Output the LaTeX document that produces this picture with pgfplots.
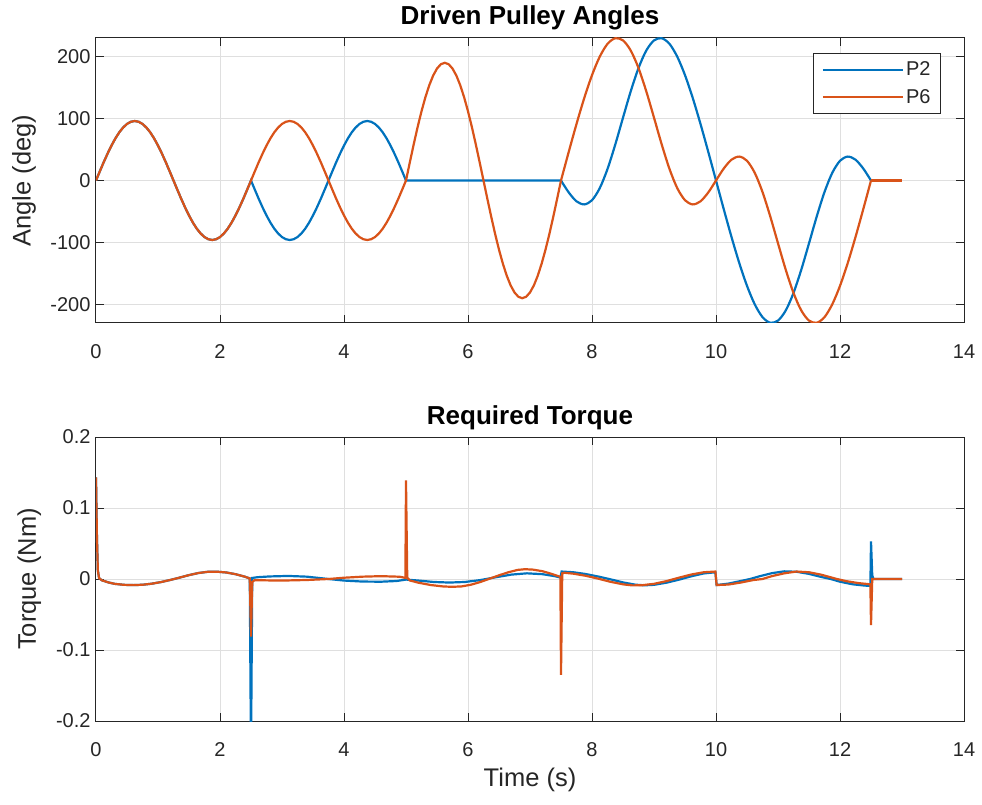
\documentclass[border=0pt]{standalone}
\usepackage{pgfplots}
\pgfplotsset{compat=1.18}
\usepackage{fontspec}
\setmainfont{Liberation Sans}
\definecolor{mblue}{rgb}{0,0.447,0.741}
\definecolor{morange}{rgb}{0.85,0.325,0.098}
\definecolor{axgray}{rgb}{0.15,0.15,0.15}
\definecolor{gridgray}{RGB}{223,223,223}
\pgfplotsset{
  mstyle/.style={
    scale only axis, width=868pt, height=285pt,
    xmin=0, xmax=14, xtick={0,2,4,6,8,10,12,14},
    xticklabels={0,2,4,6,8,10,12,14},
    axis line style={axgray, line width=1pt},
    tick style={axgray, line width=1pt},
    major tick length=8pt,
    tick align=inside,
    xtick pos=both, ytick pos=both,
    grid=major, major grid style={gridgray, line width=1pt},
    ticklabel style={font=\fontsize{20}{22}\selectfont, text=axgray},
    xticklabel style={yshift=-29pt, anchor=center},
    yticklabel style={xshift=-2pt},
    label style={font=\fontsize{25.5}{27}\selectfont, text=axgray},
    xlabel style={yshift=-4pt},
    title style={font=\bfseries\fontsize{26}{28}\selectfont, text=black, yshift=-2pt},
    /pgf/number format/assume math mode=true,
    every axis plot/.append style={line width=2.2pt},
  }
}
\begin{document}
\begin{tikzpicture}
\useasboundingbox (0,0) rectangle (982pt,804pt);
\begin{axis}[mstyle, at={(96pt,481pt)}, anchor=south west,
  ymin=-230, ymax=230, ytick={-200,-100,0,100,200},
  yticklabels={-200,-100,0,100,200},
  title={Driven Pulley Angles}, ylabel={Angle (deg)},
  ylabel style={at={(axis description cs:-0.083,0.5)}, anchor=center},
  legend style={at={(0.9735,0.949)}, anchor=north east, draw=axgray, line width=1pt, fill=white,
    font=\fontsize{20}{22}\selectfont, text=axgray, row sep=8pt, inner xsep=8pt, inner ysep=7pt},
  legend cell align=left,
  legend image code/.code={\draw[#1] (0pt,0pt) -- (80pt,0pt);},
]
\addplot[mblue] coordinates {
(0,0)(0.0625,15.0)(0.125,29.7)(0.1875,43.6)(0.25,56.4)(0.3125,67.9)(0.375,77.7)(0.4375,85.5)(0.5,91.3)(0.5625,94.8)(0.625,96)(0.6875,94.8)(0.75,91.3)(0.8125,85.5)(0.875,77.7)(0.9375,67.9)(1.0,56.4)(1.0625,43.6)(1.125,29.7)(1.1875,15.0)(1.25,0)(1.3125,-15.0)(1.375,-29.7)(1.4375,-43.6)(1.5,-56.4)(1.5625,-67.9)(1.625,-77.7)(1.6875,-85.5)(1.75,-91.3)(1.8125,-94.8)(1.875,-96)(1.9375,-94.8)(2.0,-91.3)(2.0625,-85.5)(2.125,-77.7)(2.1875,-67.9)(2.25,-56.4)(2.3125,-43.6)(2.375,-29.7)(2.4375,-15.0)(2.5,0)
(2.5625,-15.0)(2.625,-29.7)(2.6875,-43.6)(2.75,-56.4)(2.8125,-67.9)(2.875,-77.7)(2.9375,-85.5)(3.0,-91.3)(3.0625,-94.8)(3.125,-96)(3.1875,-94.8)(3.25,-91.3)(3.3125,-85.5)(3.375,-77.7)(3.4375,-67.9)(3.5,-56.4)(3.5625,-43.6)(3.625,-29.7)(3.6875,-15.0)(3.75,0)(3.8125,15.0)(3.875,29.7)(3.9375,43.6)(4.0,56.4)(4.0625,67.9)(4.125,77.7)(4.1875,85.5)(4.25,91.3)(4.3125,94.8)(4.375,96)(4.4375,94.8)(4.5,91.3)(4.5625,85.5)(4.625,77.7)(4.6875,67.9)(4.75,56.4)(4.8125,43.6)(4.875,29.7)(4.9375,15.0)(5.0,0)
(7.5,0)
};
\addlegendentry{P2}
\addplot[mblue, smooth, forget plot] coordinates {
(7.5,0)(7.625,-19.3)(7.75,-33.6)(7.875,-38.6)(8.0,-31.8)(8.125,-12.3)(8.25,18.6)(8.375,58.0)(8.5,101.4)(8.625,144.1)(8.75,181.5)(8.875,209.7)(9.0,226.1)(9.125,229.6)(9.25,220.5)(9.375,199.9)(9.5,170.0)(9.625,133.1)(9.75,91.2)(9.875,46.3)(10.0,0)(10.125,-46.3)(10.25,-91.2)(10.375,-133.1)(10.5,-170.0)(10.625,-199.9)(10.75,-220.5)(10.875,-229.6)(11.0,-226.1)(11.125,-209.7)(11.25,-181.5)(11.375,-144.1)(11.5,-101.4)(11.625,-58.0)(11.75,-18.6)(11.875,12.3)(12.0,31.8)(12.125,38.6)(12.25,33.6)(12.375,19.3)(12.5,0)
};
\addplot[morange] coordinates {
(0,0)(0.0625,15.0)(0.125,29.7)(0.1875,43.6)(0.25,56.4)(0.3125,67.9)(0.375,77.7)(0.4375,85.5)(0.5,91.3)(0.5625,94.8)(0.625,96)(0.6875,94.8)(0.75,91.3)(0.8125,85.5)(0.875,77.7)(0.9375,67.9)(1.0,56.4)(1.0625,43.6)(1.125,29.7)(1.1875,15.0)(1.25,0)(1.3125,-15.0)(1.375,-29.7)(1.4375,-43.6)(1.5,-56.4)(1.5625,-67.9)(1.625,-77.7)(1.6875,-85.5)(1.75,-91.3)(1.8125,-94.8)(1.875,-96)(1.9375,-94.8)(2.0,-91.3)(2.0625,-85.5)(2.125,-77.7)(2.1875,-67.9)(2.25,-56.4)(2.3125,-43.6)(2.375,-29.7)(2.4375,-15.0)(2.5,0)
(2.5625,15.0)(2.625,29.7)(2.6875,43.6)(2.75,56.4)(2.8125,67.9)(2.875,77.7)(2.9375,85.5)(3.0,91.3)(3.0625,94.8)(3.125,96)(3.1875,94.8)(3.25,91.3)(3.3125,85.5)(3.375,77.7)(3.4375,67.9)(3.5,56.4)(3.5625,43.6)(3.625,29.7)(3.6875,15.0)(3.75,0)(3.8125,-15.0)(3.875,-29.7)(3.9375,-43.6)(4.0,-56.4)(4.0625,-67.9)(4.125,-77.7)(4.1875,-85.5)(4.25,-91.3)(4.3125,-94.8)(4.375,-96)(4.4375,-94.8)(4.5,-91.3)(4.5625,-85.5)(4.625,-77.7)(4.6875,-67.9)(4.75,-56.4)(4.8125,-43.6)(4.875,-29.7)(4.9375,-15.0)(5.0,0)
(5.0625,29.7)(5.125,58.7)(5.1875,86.3)(5.25,111.7)(5.3125,134.3)(5.375,153.7)(5.4375,169.3)(5.5,180.7)(5.5625,187.7)(5.625,190)(5.6875,187.7)(5.75,180.7)(5.8125,169.3)(5.875,153.7)(5.9375,134.3)(6.0,111.7)(6.0625,86.3)(6.125,58.7)(6.1875,29.7)(6.25,0)(6.3125,-29.7)(6.375,-58.7)(6.4375,-86.3)(6.5,-111.7)(6.5625,-134.3)(6.625,-153.7)(6.6875,-169.3)(6.75,-180.7)(6.8125,-187.7)(6.875,-190)(6.9375,-187.7)(7.0,-180.7)(7.0625,-169.3)(7.125,-153.7)(7.1875,-134.3)(7.25,-111.7)(7.3125,-86.3)(7.375,-58.7)(7.4375,-29.7)(7.5,0)
};
\addlegendentry{P6}
\addplot[morange, smooth, forget plot] coordinates {
(7.5,0)(7.625,46.3)(7.75,91.2)(7.875,133.1)(8.0,170.0)(8.125,199.9)(8.25,220.5)(8.375,229.6)(8.5,226.1)(8.625,209.7)(8.75,181.5)(8.875,144.1)(9.0,101.4)(9.125,58.0)(9.25,18.6)(9.375,-12.3)(9.5,-31.8)(9.625,-38.6)(9.75,-33.6)(9.875,-19.3)(10.0,0)(10.125,19.3)(10.25,33.6)(10.375,38.6)(10.5,31.8)(10.625,12.3)(10.75,-18.6)(10.875,-58.0)(11.0,-101.4)(11.125,-144.1)(11.25,-181.5)(11.375,-209.7)(11.5,-226.1)(11.625,-229.6)(11.75,-220.5)(11.875,-199.9)(12.0,-170.0)(12.125,-133.1)(12.25,-91.2)(12.375,-46.3)(12.5,0)
};
\addplot[morange, forget plot] coordinates {(12.5,0)(13.0,0)};
\end{axis}
\begin{axis}[mstyle, at={(96pt,83pt)}, anchor=south west, height=284pt,
  ymin=-0.2, ymax=0.2, ytick={-0.2,-0.1,0,0.1,0.2},
  yticklabels={-0.2,-0.1,0,0.1,0.2},
  title={Required Torque}, ylabel={Torque (Nm)}, xlabel={Time (s)},
  ylabel style={at={(axis description cs:-0.077,0.5)}, anchor=center},
]
\addplot[mblue] coordinates {
(0,0.143)(0.015,0.06)(0.03,0.012)(0.05,0.001)(0.1,-0.002)(0.2,-0.0048)(0.3,-0.0068)(0.45,-0.0082)(0.6,-0.0086)(0.75,-0.0081)(0.9,-0.0066)(1.05,-0.0043)(1.2,-0.0013)(1.35,0.0020)(1.5,0.0055)(1.65,0.0084)(1.8,0.0101)(1.95,0.0103)(2.1,0.0092)(2.25,0.0068)(2.4,0.0033)(2.48,0.0008)
(2.5,-0.25)(2.52,0.0015)(2.6,0.0025)(2.8,0.0036)(3.1,0.0043)(3.4,0.0033)(3.75,0.0)(4.0,-0.0022)(4.3,-0.0036)(4.6,-0.0038)(4.85,-0.0028)(5.0,-0.0008)(5.2,-0.0022)(5.45,-0.0042)(5.7,-0.005)(5.95,-0.0042)(6.2,-0.0015)(6.45,0.0025)(6.7,0.0062)(6.95,0.008)(7.2,0.0068)(7.4,0.004)(7.49,0.002)
(7.51,0.0105)(7.7,0.0095)(7.9,0.007)(8.1,0.0035)(8.3,-0.0005)(8.5,-0.0048)(8.7,-0.008)(8.85,-0.0089)(9.0,-0.0082)(9.2,-0.0052)(9.4,-0.001)(9.6,0.0038)(9.8,0.0078)(9.99,0.0095)
(10.01,-0.0085)(10.2,-0.0065)(10.4,-0.0028)(10.55,0.0)(10.7,0.0038)(10.9,0.0082)(11.1,0.0108)(11.3,0.0102)(11.5,0.0072)(11.7,0.0028)(11.85,0.0)(12.0,-0.0038)(12.2,-0.0074)(12.4,-0.0093)(12.49,-0.0096)
(12.5,0.053)(12.52,0.005)(12.54,0.0)(13.0,0.0)
};
\addplot[morange] coordinates {
(0,0.143)(0.015,0.06)(0.03,0.012)(0.05,0.001)(0.1,-0.002)(0.2,-0.0048)(0.3,-0.0068)(0.45,-0.0082)(0.6,-0.0086)(0.75,-0.0081)(0.9,-0.0066)(1.05,-0.0043)(1.2,-0.0013)(1.35,0.0020)(1.5,0.0055)(1.65,0.0084)(1.8,0.0101)(1.95,0.0103)(2.1,0.0092)(2.25,0.0068)(2.4,0.0033)(2.48,0.0008)
(2.5,-0.081)(2.52,-0.004)(2.56,-0.0016)(2.8,-0.002)(3.1,-0.002)(3.4,-0.0014)(3.75,0.0)(4.0,0.0018)(4.3,0.0033)(4.6,0.0040)(4.9,0.0032)(4.99,0.0015)
(5.0,0.139)(5.02,0.002)(5.06,-0.002)(5.2,-0.0052)(5.4,-0.0085)(5.6,-0.0105)(5.75,-0.011)(5.9,-0.0104)(6.05,-0.008)(6.2,-0.0042)(6.35,0.0005)(6.5,0.0052)(6.65,0.0095)(6.8,0.0128)(6.92,0.0138)(7.05,0.0132)(7.2,0.011)(7.35,0.0072)(7.49,0.003)
(7.5,-0.135)(7.52,0.008)(7.55,0.0088)(7.7,0.0075)(7.9,0.0045)(8.1,0.0005)(8.3,-0.004)(8.5,-0.0075)(8.65,-0.009)(8.8,-0.0088)(9.0,-0.0068)(9.2,-0.003)(9.4,0.0018)(9.6,0.0063)(9.8,0.0095)(9.99,0.0105)
(10.01,-0.0085)(10.2,-0.0078)(10.4,-0.005)(10.6,-0.0015)(10.75,0.0)(10.9,0.004)(11.1,0.008)(11.3,0.0105)(11.5,0.0095)(11.7,0.006)(11.95,0.0)(12.1,-0.003)(12.3,-0.0058)(12.49,-0.0075)
(12.5,-0.065)(12.52,0.0)(13.0,0.0)
};
\end{axis}
\end{tikzpicture}
\end{document}
